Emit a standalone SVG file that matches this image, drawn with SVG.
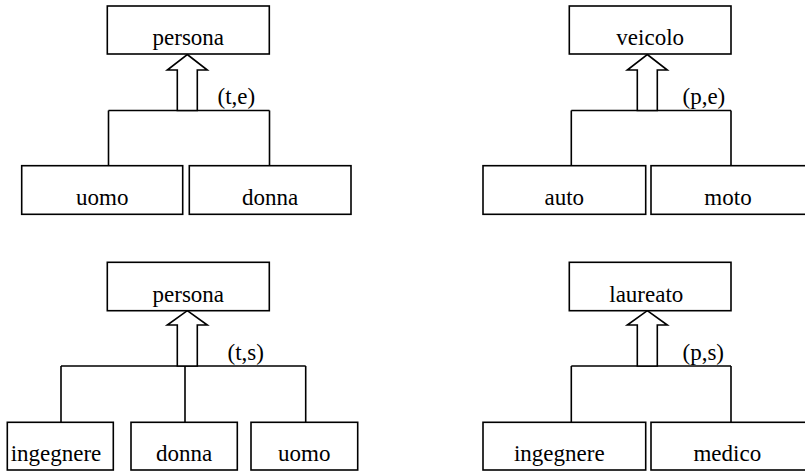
<svg xmlns="http://www.w3.org/2000/svg" width="805" height="473" viewBox="0 0 805 473">
<style>
.box{fill:#fff;stroke:#000;stroke-width:1.6}
.ln{fill:none;stroke:#000;stroke-width:1.6}
.ar{fill:#fff;stroke:#000;stroke-width:1.6;stroke-linejoin:miter}
text{font-family:'Liberation Serif','Times New Roman','DejaVu Serif',serif;font-size:23px;fill:#000;text-anchor:middle}
.lbl{text-anchor:start}
</style>
<rect width="805" height="473" fill="#fff"/>
<g id="connectors">
<path class="ln" d="M108.5 110.5H269.5M108.5 110.5V166M269.5 110.5V166"/>
<path class="ar" d="M187.3 54.5L207.3 70H197.3V110.5H177.3V70H167.3Z"/>
<path class="ln" d="M571.3 110.5H731M571.3 110.5V166M731 110.5V166"/>
<path class="ar" d="M647.3 54.5L667.3 70H657.3V110.5H637.3V70H627.3Z"/>
<path class="ln" d="M61 366H305.7M61 366V422.3M185 366V422.3M305.7 366V422.3"/>
<path class="ar" d="M187.3 310.7L207.3 325H197.3V366H177.3V325H167.3Z"/>
<path class="ln" d="M571.3 366H731M571.3 366V422.3M731 366V422.3"/>
<path class="ar" d="M647.3 310.7L667.3 325H657.3V366H637.3V325H627.3Z"/>
<text class="lbl" x="217.5" y="104" font-family="Liberation Serif, serif">(t,e)</text>
<text class="lbl" x="682.5" y="104" font-family="Liberation Serif, serif">(p,e)</text>
<text class="lbl" x="227.5" y="360" font-family="Liberation Serif, serif">(t,s)</text>
<text class="lbl" x="682.5" y="360" font-family="Liberation Serif, serif">(p,s)</text>
</g>
<g id="persona1"><rect class="box" x="107.3" y="6" width="162" height="48"/><text x="188.3" y="45">persona</text></g>
<g id="uomo1"><rect class="box" x="21.7" y="165.7" width="161" height="48.6"/><text x="102.2" y="205">uomo</text></g>
<g id="donna1"><rect class="box" x="189.3" y="165.7" width="161.7" height="48.6"/><text x="270.2" y="205">donna</text></g>
<g id="veicolo"><rect class="box" x="569.3" y="6" width="161.7" height="48"/><text x="650.2" y="45">veicolo</text></g>
<g id="auto"><rect class="box" x="483" y="165.7" width="162.7" height="48.6"/><text x="564.3" y="205">auto</text></g>
<g id="moto"><rect class="box" x="651" y="165.7" width="162" height="48.6"/><text x="728" y="205">moto</text></g>
<g id="persona2"><rect class="box" x="107.3" y="262.3" width="162" height="48.4"/><text x="188.3" y="301.5">persona</text></g>
<g id="ingegnere1"><rect class="box" x="7.3" y="422.3" width="106" height="47.7"/><text x="56" y="461">ingegnere</text></g>
<g id="donna2"><rect class="box" x="131" y="422.3" width="106.3" height="47.7"/><text x="184.2" y="461">donna</text></g>
<g id="uomo2"><rect class="box" x="251" y="422.3" width="106.7" height="47.7"/><text x="304.3" y="461">uomo</text></g>
<g id="laureato"><rect class="box" x="569.3" y="262.3" width="161.7" height="48.4"/><text x="646.3" y="301.5">laureato</text></g>
<g id="ingegnere2"><rect class="box" x="483" y="422.3" width="162.7" height="47.7"/><text x="559.3" y="461">ingegnere</text></g>
<g id="medico"><rect class="box" x="651" y="422.3" width="162" height="47.7"/><text x="727.3" y="461">medico</text></g>
</svg>
